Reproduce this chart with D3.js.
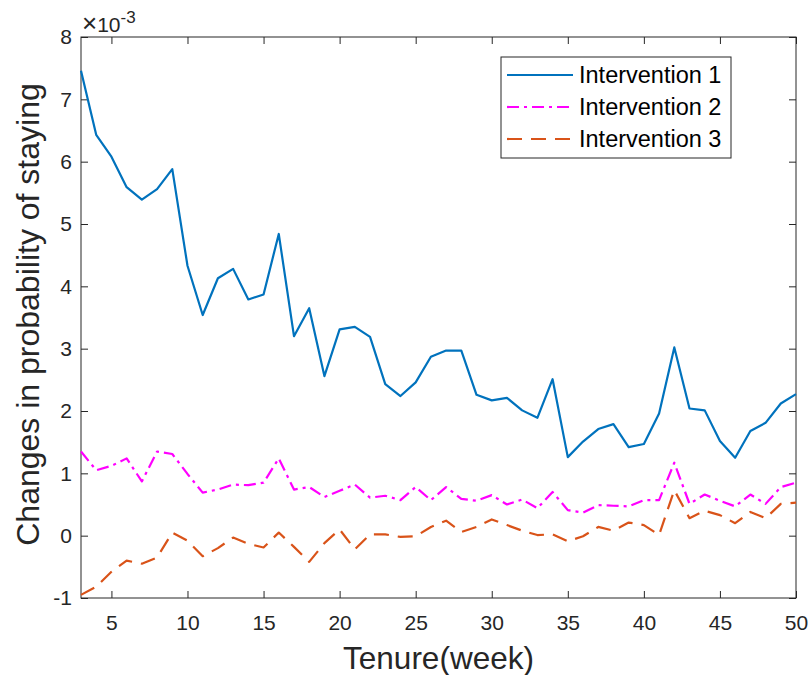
<!DOCTYPE html>
<html>
<head>
<meta charset="utf-8">
<script src="https://cdn.jsdelivr.net/npm/d3@7"></script>
<style>
  body { margin: 0; background: #fff; }
  svg { font-family: "Liberation Sans", Arial, sans-serif; }
</style>
</head>
<body>
<div class="canvas"></div>
<script>
// weeks 3..50
const weeks = [3,4,5,6,7,8,9,10,11,12,13,14,15,16,17,18,19,20,21,22,23,24,25,26,
  27,28,29,30,31,32,33,34,35,36,37,38,39,40,41,42,43,44,45,46,47,48,49,50];

// values in units of 1e-3
const intervention1 = [7.46,6.43,6.08,5.59,5.39,5.56,5.88,4.33,3.54,4.13,4.28,3.79,3.87,4.84,
  3.20,3.65,2.56,3.31,3.35,3.19,2.43,2.24,2.46,2.87,2.97,2.97,2.26,2.17,2.21,2.01,1.89,2.51,
  1.26,1.51,1.71,1.79,1.42,1.47,1.96,3.02,2.04,2.01,1.52,1.25,1.68,1.81,2.12,2.27];
const intervention2 = [1.35,1.05,1.12,1.24,0.87,1.35,1.31,0.99,0.69,0.74,0.82,0.81,0.85,1.24,
  0.74,0.78,0.62,0.72,0.82,0.61,0.64,0.57,0.78,0.57,0.78,0.59,0.56,0.65,0.50,0.58,0.44,0.70,
  0.41,0.37,0.49,0.48,0.47,0.57,0.57,1.17,0.51,0.66,0.56,0.47,0.66,0.51,0.78,0.85];
const intervention3 = [-0.95,-0.82,-0.58,-0.40,-0.45,-0.35,0.05,-0.08,-0.33,-0.20,-0.03,-0.13,
  -0.19,0.05,-0.18,-0.42,-0.12,0.10,-0.22,0.02,0.02,-0.02,-0.01,0.14,0.24,0.06,0.14,0.26,0.17,
  0.08,0.01,0.02,-0.09,-0.01,0.14,0.08,0.21,0.17,0.01,0.73,0.28,0.40,0.33,0.20,0.38,0.28,0.51,0.53];

const seriesNames = ["Intervention 1", "Intervention 2", "Intervention 3"];
const xTicks = [5,10,15,20,25,30,35,40,45,50];
const yTicks = [-1,0,1,2,3,4,5,6,7,8];

const width = 808, height = 675;
const margin = { top: 37, right: 12, bottom: 77, left: 81 };
const graphWidth = width - margin.left - margin.right;
const graphHeight = height - margin.top - margin.bottom;

const svg = d3.select(".canvas").append("svg")
  .attr("width", width)
  .attr("height", height);

const graph = svg.append("g")
  .attr("transform", `translate(${margin.left}, ${margin.top})`);

// scales
const x = d3.scaleLinear().domain([3, 50]).range([0, graphWidth]);
const y = d3.scaleLinear().domain([-1, 8]).range([graphHeight, 0]);

const axisColor = "#262626";
const tickLen = 7;
const plain = (d) => String(d); // hyphen minus like the original

// axes (ticks inward, MATLAB style)
const styleAxis = (g) => {
  g.select(".domain").remove();
  g.selectAll("line").attr("stroke", axisColor).attr("stroke-width", 1);
  g.selectAll("text").attr("fill", axisColor).style("font-size", "21px");
};

graph.append("g")
  .attr("transform", `translate(0, ${graphHeight})`)
  .call(d3.axisBottom(x).tickValues(xTicks).tickFormat(plain)
    .tickSizeInner(-tickLen).tickSizeOuter(0).tickPadding(17))
  .call(styleAxis);

graph.append("g")
  .call(d3.axisTop(x).tickValues(xTicks).tickSizeInner(-tickLen).tickSizeOuter(0).tickFormat(""))
  .call(styleAxis);

graph.append("g")
  .call(d3.axisLeft(y).tickValues(yTicks).tickFormat(plain)
    .tickSizeInner(-tickLen).tickSizeOuter(0).tickPadding(9))
  .call(styleAxis);

graph.append("g")
  .attr("transform", `translate(${graphWidth}, 0)`)
  .call(d3.axisRight(y).tickValues(yTicks).tickSizeInner(-tickLen).tickSizeOuter(0).tickFormat(""))
  .call(styleAxis);

// box
graph.append("rect")
  .attr("width", graphWidth)
  .attr("height", graphHeight)
  .attr("fill", "none")
  .attr("stroke", axisColor)
  .attr("stroke-width", 1);

// lines
const styles = [
  { color: "#0072BD", dash: null },
  { color: "#FF00FF", dash: "12,5,3,5" },
  { color: "#D95319", dash: "15,9" }
];
const allSeries = [intervention1, intervention2, intervention3];

const line = d3.line()
  .x((d, i) => x(weeks[i]))
  .y((d) => y(d));

graph.selectAll(".series")
  .data(allSeries)
  .enter()
  .append("path")
  .attr("class", "series")
  .attr("fill", "none")
  .attr("stroke", (d, i) => styles[i].color)
  .attr("stroke-width", 2.2)
  .attr("stroke-dasharray", (d, i) => styles[i].dash)
  .attr("stroke-linejoin", "round")
  .attr("d", line);

// exponent label
const expo = svg.append("text")
  .attr("x", 82)
  .attr("y", 32)
  .attr("fill", axisColor)
  .style("font-size", "21px");
expo.append("tspan").style("font-size", "26px").text("×");
expo.append("tspan").text("10");
expo.append("tspan").attr("dy", -9).style("font-size", "17px").text("-3");

// axis labels
svg.append("text")
  .attr("x", margin.left + graphWidth / 2)
  .attr("y", 669)
  .attr("text-anchor", "middle")
  .attr("fill", axisColor)
  .style("font-size", "31.5px")
  .text("Tenure(week)");

svg.append("text")
  .attr("transform", `translate(39, ${margin.top + graphHeight / 2 - 3}) rotate(-90)`)
  .attr("text-anchor", "middle")
  .attr("fill", axisColor)
  .style("font-size", "32px")
  .text("Changes in probability of staying");

// legend
const legend = svg.append("g").attr("transform", "translate(501, 57)");
legend.append("rect")
  .attr("width", 230)
  .attr("height", 101)
  .attr("fill", "#fff")
  .attr("stroke", axisColor)
  .attr("stroke-width", 1);

const rows = legend.selectAll(".row")
  .data(seriesNames)
  .enter()
  .append("g")
  .attr("transform", (d, i) => `translate(0, ${18 + i * 32})`);

rows.append("line")
  .attr("x1", 6).attr("x2", 72)
  .attr("stroke", (d, i) => styles[i].color)
  .attr("stroke-width", 2.2)
  .attr("stroke-dasharray", (d, i) => styles[i].dash);

rows.append("text")
  .attr("x", 78)
  .attr("y", 8)
  .attr("fill", "#000")
  .style("font-size", "23.5px")
  .text((d) => d);
</script>
</body>
</html>
